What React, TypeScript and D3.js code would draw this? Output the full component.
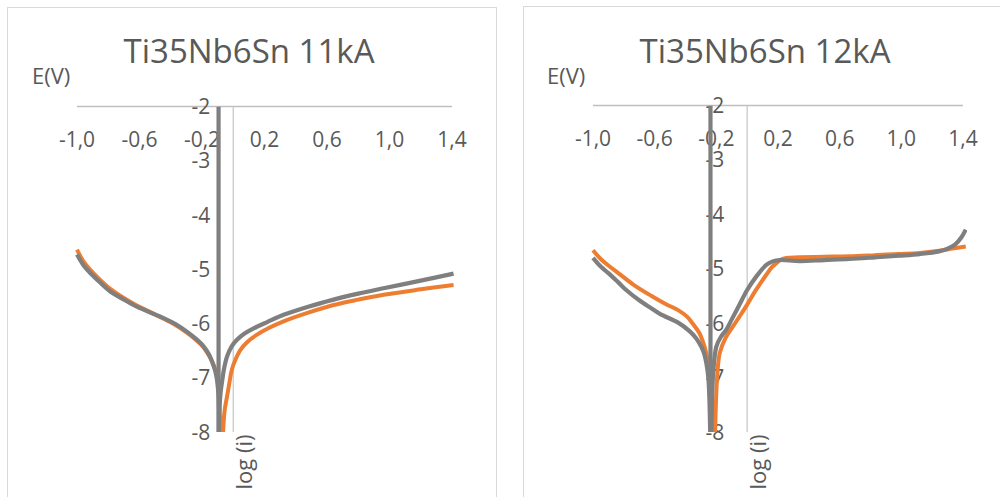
import React from "react";
import * as d3 from "d3";

type Pt = [number, number];

// Potential axis ticks (V) and log current ticks
const xTicks = [-1.0, -0.6, -0.2, 0.2, 0.6, 1.0, 1.4];
const yTicks = [-2, -3, -4, -5, -6, -7, -8];

const titles = ["Ti35Nb6Sn 11kA", "Ti35Nb6Sn 12kA"];

// --- Ti35Nb6Sn 11kA ---
const orangeCath11: Pt[] = [
  [-1.0, -4.64], [-0.96, -4.85], [-0.915, -5.01], [-0.85, -5.2], [-0.787, -5.36],
  [-0.7, -5.53], [-0.617, -5.67], [-0.53, -5.79], [-0.446, -5.91], [-0.37, -6.03],
  [-0.297, -6.17], [-0.24, -6.3], [-0.19, -6.44], [-0.15, -6.62], [-0.12, -6.8],
  [-0.1, -7.0], [-0.09, -7.3], [-0.085, -7.7], [-0.083, -8.0],
];
const orangeAnod11: Pt[] = [
  [-0.065, -8.0], [-0.055, -7.6], [-0.04, -7.35], [-0.025, -7.1], [-0.01, -6.86],
  [0.015, -6.66], [0.045, -6.49], [0.09, -6.34], [0.15, -6.21], [0.23, -6.08],
  [0.322, -5.96], [0.48, -5.8], [0.642, -5.66], [0.8, -5.56], [0.962, -5.47],
  [1.2, -5.37], [1.41, -5.29],
];
const grayCath11: Pt[] = [
  [-1.0, -4.73], [-0.96, -4.92], [-0.915, -5.07], [-0.85, -5.25], [-0.787, -5.41],
  [-0.7, -5.56], [-0.617, -5.69], [-0.53, -5.8], [-0.446, -5.9], [-0.37, -6.01],
  [-0.297, -6.15], [-0.24, -6.28], [-0.19, -6.42], [-0.155, -6.57], [-0.136, -6.7],
  [-0.115, -6.88], [-0.104, -7.04], [-0.095, -7.3], [-0.092, -7.6], [-0.092, -8.0],
];
const grayAnod11: Pt[] = [
  [-0.09, -7.6], [-0.08, -7.25], [-0.073, -7.1], [-0.06, -6.85], [-0.04, -6.61],
  [-0.01, -6.42], [0.024, -6.3], [0.07, -6.19], [0.13, -6.09], [0.22, -5.97],
  [0.322, -5.84], [0.48, -5.69], [0.642, -5.56], [0.8, -5.45], [0.962, -5.35],
  [1.2, -5.21], [1.41, -5.08],
];
const graySpike11: Pt[] = [[-0.094, -2], [-0.094, -8]];

// --- Ti35Nb6Sn 12kA ---
const orangeCath12: Pt[] = [
  [-1.0, -4.66], [-0.95, -4.82], [-0.9, -4.94], [-0.836, -5.08], [-0.739, -5.29],
  [-0.62, -5.5], [-0.52, -5.66], [-0.448, -5.76], [-0.39, -5.88], [-0.35, -6.02],
  [-0.31, -6.18], [-0.286, -6.35], [-0.265, -6.55], [-0.25, -6.8], [-0.24, -7.1],
  [-0.228, -7.5], [-0.215, -8.0],
];
const orangeAnod12: Pt[] = [
  [-0.208, -8.0], [-0.203, -7.5], [-0.195, -7.0], [-0.178, -6.55], [-0.14, -6.27],
  [-0.092, -6.06], [-0.05, -5.88], [0.0, -5.66], [0.05, -5.42], [0.09, -5.25],
  [0.124, -5.11], [0.16, -4.97], [0.189, -4.9], [0.22, -4.83], [0.254, -4.8],
  [0.34, -4.79], [0.5, -4.78], [0.663, -4.77], [0.83, -4.75], [0.986, -4.73],
  [1.12, -4.71], [1.245, -4.67], [1.33, -4.63], [1.418, -4.59],
];
const grayCath12: Pt[] = [
  [-1.0, -4.8], [-0.95, -4.96], [-0.9, -5.08], [-0.836, -5.25], [-0.781, -5.4],
  [-0.7, -5.58], [-0.62, -5.73], [-0.566, -5.83], [-0.448, -5.99], [-0.372, -6.15],
  [-0.33, -6.28], [-0.3, -6.42], [-0.28, -6.55], [-0.264, -6.75], [-0.252, -7.0],
  [-0.245, -7.4], [-0.24, -8.0],
];
const grayAnod12: Pt[] = [
  [-0.232, -8.0], [-0.228, -7.4], [-0.22, -6.9], [-0.2, -6.43], [-0.17, -6.25],
  [-0.135, -6.12], [-0.1, -5.93], [-0.05, -5.66], [0.0, -5.39], [0.06, -5.14],
  [0.124, -4.93], [0.17, -4.86], [0.21, -4.84], [0.34, -4.86], [0.5, -4.84],
  [0.663, -4.82], [0.83, -4.79], [0.986, -4.76], [1.12, -4.73], [1.245, -4.68],
  [1.3, -4.63], [1.35, -4.55], [1.39, -4.42], [1.418, -4.28],
];
const graySpike12: Pt[] = [[-0.238, -2], [-0.238, -8]];

const ORANGE = "#ED7D31";
const GRAY = "#7F7F7F";
const TEXT = "#595959";
const FONT = "'Open Sans', 'DejaVu Sans', sans-serif";

interface PanelProps {
  id: string;
  title: string;
  frame: { x: number; y: number; w: number; h: number };
  plot: { left: number; right: number; top: number; bottom: number };
  titleX: number;
  evX: number;
  orange: Pt[][];
  gray: Pt[][];
}

const fmtX = (v: number) => d3.format(".1f")(v).replace(".", ",").replace("−", "-");

function Panel({ id, title, frame, plot, titleX, evX, orange, gray }: PanelProps) {
  const x = d3.scaleLinear().domain([-1.0, 1.4]).range([plot.left, plot.right]);
  const y = d3.scaleLinear().domain([-2, -8]).range([plot.top, plot.bottom]);
  const line = d3
    .line<Pt>()
    .x((d) => x(d[0]))
    .y((d) => y(d[1]))
    .curve(d3.curveCatmullRom.alpha(0.5));
  const x0 = x(0);
  return (
    <g>
      <defs>
        <clipPath id={id}>
          <rect x={plot.left - 2} y={plot.top} width={plot.right - plot.left + 6} height={plot.bottom - plot.top} />
        </clipPath>
      </defs>
      <rect x={frame.x} y={frame.y} width={frame.w} height={frame.h} fill="#fff" stroke="#d9d9d9" strokeWidth={1} />
      <text x={titleX} y={63} textAnchor="middle" fontFamily={FONT} fontSize={33} fill={TEXT}>
        {title}
      </text>
      <text x={evX} y={84} fontFamily={FONT} fontSize={22} fill={TEXT}>
        E(V)
      </text>
      {/* axis lines */}
      <line x1={plot.left} x2={plot.right} y1={y(-2)} y2={y(-2)} stroke="#bfbfbf" strokeWidth={1.3} />
      <line x1={x0} x2={x0} y1={y(-2)} y2={y(-8)} stroke="#c9c9c9" strokeWidth={1.3} />
      {xTicks.map((t) => (
        <text key={t} x={x(t)} y={y(-2) + 40} textAnchor="middle" fontFamily={FONT} fontSize={21} fill={TEXT}>
          {fmtX(t)}
        </text>
      ))}
      {yTicks.map((t) => (
        <text key={t} x={x0 - 23} y={y(t) + 7.5} textAnchor="end" fontFamily={FONT} fontSize={21} fill={TEXT}>
          {String(t)}
        </text>
      ))}
      <text
        transform={`translate(${x0 + 10},${462}) rotate(-90)`}
        textAnchor="middle"
        dominantBaseline="central"
        fontFamily={FONT}
        fontSize={22}
        fill={TEXT}
      >
        log (i)
      </text>
      <g clipPath={`url(#${id})`} fill="none" strokeLinejoin="round" strokeLinecap="butt">
        {orange.map((s, i) => (
          <path key={"o" + i} d={line(s) ?? ""} stroke={ORANGE} strokeWidth={4} />
        ))}
        {gray.map((s, i) => (
          <path key={"g" + i} d={line(s) ?? ""} stroke={GRAY} strokeWidth={4.2} />
        ))}
      </g>
    </g>
  );
}

export default function App() {
  return (
    <svg
      width={1000}
      height={497}
      viewBox="0 0 1000 497"
      style={{ position: "absolute", left: 0, top: 0, background: "#fff" }}
    >
      <rect x={0} y={0} width={1000} height={497} fill="#fff" />
      <Panel
        id="clip11"
        title={titles[0]}
        frame={{ x: 7.5, y: 7.5, w: 489, h: 520 }}
        plot={{ left: 77, right: 452, top: 106.5, bottom: 432 }}
        titleX={249}
        evX={32}
        orange={[orangeCath11, orangeAnod11]}
        gray={[grayCath11, grayAnod11, graySpike11]}
      />
      <Panel
        id="clip12"
        title={titles[1]}
        frame={{ x: 523.5, y: 6.5, w: 500, h: 520 }}
        plot={{ left: 593, right: 963, top: 105.5, bottom: 432 }}
        titleX={765}
        evX={547}
        orange={[orangeCath12, orangeAnod12]}
        gray={[grayCath12, grayAnod12, graySpike12]}
      />
    </svg>
  );
}
